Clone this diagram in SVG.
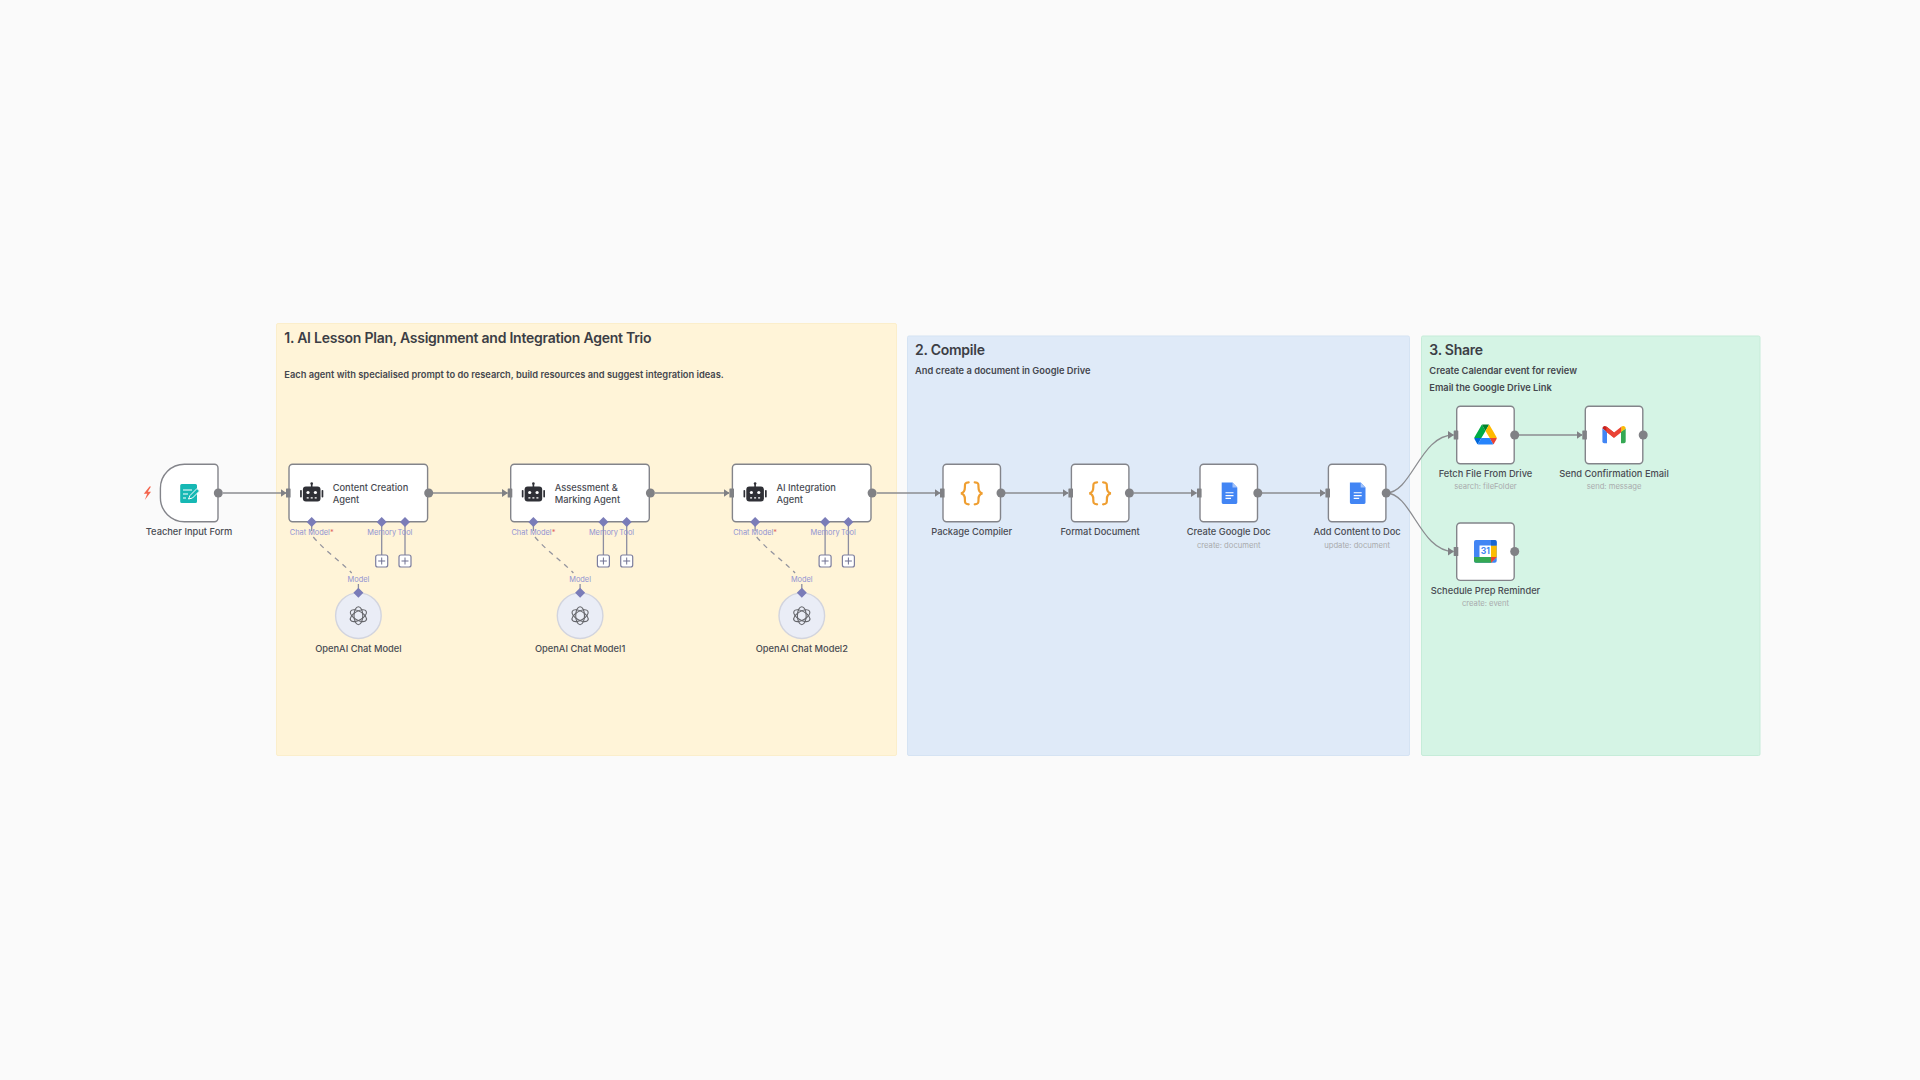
<svg xmlns="http://www.w3.org/2000/svg" width="1920" height="1080" viewBox="0 0 1920 1080">
<style>
text{font-family:"Inter","Liberation Sans",sans-serif}
.title{font-size:14px;font-weight:600;letter-spacing:-0.25px;fill:#3c3e45}
.body{font-size:9.3px;font-weight:600;fill:#45474e}
.name{font-size:9.3px;font-weight:500;fill:#4a4c53}
.mid{text-anchor:middle}
.sub{font-size:7.65px;font-weight:400;fill:#a9abad;text-anchor:middle}
.tag{font-size:7.4px;font-weight:400;fill:#9193d2;text-anchor:middle}
.box{fill:#fff;stroke:#83848a;stroke-width:1.4}
.dot{fill:#808185}
.port{fill:#808185}
.con{fill:none;stroke:#8b8c90;stroke-width:1.3;marker-end:url(#arrow)}
.sup{fill:none;stroke:#8c8da0;stroke-width:1.3}
.dash{fill:none;stroke:#94949e;stroke-width:1.3;stroke-dasharray:5 5}
.dia{fill:#7a7cb8}
.plus{fill:#fff;stroke:#7d7e9e;stroke-width:1.2}
.pm{stroke:#6f7192;stroke-width:1;fill:none}
.llm{fill:#eaedf6;stroke:#d2d4de;stroke-width:1.4}
</style>
<defs>
<marker id="arrow" viewBox="0 0 6 9" refX="5.500" refY="4.500" markerWidth="6" markerHeight="9" markerUnits="userSpaceOnUse" orient="auto"><path d="M0 0.500L6 4.500L0 8.500Z" fill="#808185"/></marker>
<g id="in"><rect x="-3" y="-4.500" width="4.600" height="9" rx="0.600" class="port"/></g>
<g id="robot" fill="#2f3036">
<rect x="-8.800" y="-7" width="17.600" height="15" rx="3"/>
<rect x="-11.600" y="-3.500" width="1.700" height="7.500" rx="0.800"/>
<rect x="9.900" y="-3.500" width="1.700" height="7.500" rx="0.800"/>
<rect x="-0.800" y="-9.500" width="1.600" height="3"/>
<circle cy="-10" r="1.300"/>
<circle cx="-3.700" cy="-1" r="1.600" fill="#fff"/>
<circle cx="3.700" cy="-1" r="1.600" fill="#fff"/>
<path d="M-5 4.300H-3M-1 4.300H1M3 4.300H5" stroke="#fff" stroke-width="1.200"/>
</g>
<g id="knot" fill="none" stroke="#65666b" stroke-width="1.100">
<ellipse rx="4.400" ry="9"/>
<ellipse rx="4.400" ry="9" transform="rotate(60)"/>
<ellipse rx="4.400" ry="9" transform="rotate(120)"/>
</g>
<g id="braces" fill="none" stroke="#ef9e30" stroke-width="2.200" stroke-linecap="round">
<path d="M-3 -11C-7 -11 -6.800 -9 -6.800 -6C-6.800 -2.500 -7.500 -0.500 -10.800 0C-7.500 0.500 -6.800 2.500 -6.800 6C-6.800 9 -7 11 -3 11"/>
<path d="M3 -11C7 -11 6.800 -9 6.800 -6C6.800 -2.500 7.500 -0.500 10.800 0C7.500 0.500 6.800 2.500 6.800 6C6.800 9 7 11 3 11"/>
</g>
<g id="gdoc">
<path d="M-7.800 -10.700H3L7.800 -5.900V9.300A1.400 1.400 0 0 1 6.400 10.700H-6.400A1.400 1.400 0 0 1 -7.800 9.300Z" fill="#4285f4"/>
<path d="M3 -10.700L7.800 -5.900H3Z" fill="#a1c2fa"/>
<path d="M-4 -0.500H4M-4 2.300H4M-4 5.100H1.500" stroke="#fff" stroke-width="1.100"/>
</g>
<g id="ports">
<path class="sup" d="M92.700 0V33M116 0V33"/>
<path class="sup" d="M22.700 0V9M69.400 62V70"/>
<path class="dash" d="M24.300 15C36 29 50 38 62.700 51"/>
<path class="dia" d="M22.700 -5L27.700 0L22.700 5L17.700 0Z"/>
<path class="dia" d="M92.700 -5L97.700 0L92.700 5L87.700 0Z"/>
<path class="dia" d="M116 -5L121 0L116 5L111 0Z"/>
<rect class="plus" x="86.700" y="33" width="12" height="12" rx="2"/>
<rect class="plus" x="110" y="33" width="12" height="12" rx="2"/>
<path class="pm" d="M89.200 39H96.200M92.700 35.500V42.500M112.500 39H119.500M116 35.500V42.500"/>
<circle class="llm" cx="69.400" cy="93.700" r="22.800"/>
<use href="#knot" x="69.400" y="93.700"/>
<path class="dia" d="M69.400 65.800L74.400 70.800L69.400 75.800L64.400 70.800Z"/>
</g>
</defs>
<rect width="1920" height="1080" fill="#fafafa"/>
<g id="sections">
<g id="section-1">
<rect x="276.500" y="323.500" width="620" height="432" rx="1.500" fill="#fff4d8" stroke="#fbeecb" stroke-width="1"/>
<text class="title" x="284.300" y="343">1. AI Lesson Plan, Assignment and Integration Agent Trio</text>
<text class="body" x="284.300" y="378.300">Each agent with specialised prompt to do research, build resources and suggest integration ideas.</text>
</g>
<g id="section-2">
<rect x="907.500" y="336" width="502" height="419.500" rx="1.500" fill="#dfeaf8" stroke="#d5e3f3" stroke-width="1"/>
<text class="title" x="915" y="355.200">2. Compile</text>
<text class="body" x="915" y="374.300">And create a document in Google Drive</text>
</g>
<g id="section-3">
<rect x="1421.500" y="336" width="338.500" height="419.500" rx="1.500" fill="#d5f4e5" stroke="#c6ecd9" stroke-width="1"/>
<text class="title" x="1429.300" y="355.200">3. Share</text>
<text class="body" x="1429.300" y="374.300">Create Calendar event for review</text>
<text class="body" x="1429.300" y="391.300">Email the Google Drive Link</text>
</g>
</g>
<g id="connectors">
<path class="con" d="M223 493H286"/>
<path class="con" d="M433 493H507.500"/>
<path class="con" d="M655 493H729"/>
<path class="con" d="M877 493H940"/>
<path class="con" d="M1005 493H1068"/>
<path class="con" d="M1133.500 493H1196.500"/>
<path class="con" d="M1262 493H1325"/>
<path class="con" d="M1386 493C1412 493 1420 435 1453.500 435"/>
<path class="con" d="M1386 493C1412 493 1420 551.500 1453.500 551.500"/>
<path class="con" d="M1519 435H1582"/>
</g>
<g id="teacher-input-form">
<path class="box" d="M184.400 464.300H214.400A3.600 3.600 0 0 1 218 467.900V518.100A3.600 3.600 0 0 1 214.400 521.700H184.400A24 24 0 0 1 160.400 497.700V488.300A24 24 0 0 1 184.400 464.300Z"/>
<path d="M149.500 486.500L143.800 493.800H147.200L144.800 500L151 491.800H147.800L151 486.500Z" fill="#f4664f"/>
<path d="M180.200 485.500A1.500 1.500 0 0 1 181.700 484H195.500A1.500 1.500 0 0 1 197 485.500V501.500A1.500 1.500 0 0 1 195.500 503H181.700A1.500 1.500 0 0 1 180.200 501.500Z" fill="#16b8b4"/>
<path d="M183 490H192M183 494H188M183 498H186" stroke="#fff" stroke-width="1.200"/>
<path d="M188.500 499L190 495.500L197 488.500L199.500 491L192.500 498Z" fill="#16b8b4" stroke="#fff" stroke-width="1"/>
<circle class="dot" cx="218.300" cy="493" r="4.500"/>
<text class="name mid" x="189" y="535.300">Teacher Input Form</text>
</g>
<g id="content-creation-agent">
<rect class="box" x="289" y="464.300" width="138.600" height="57.400" rx="3.600"/>
<use href="#in" x="289" y="493"/>
<use href="#robot" x="311.700" y="493.500"/>
<text class="name"><tspan x="332.700" y="491.200">Content Creation</tspan><tspan x="332.700" y="503.200">Agent</tspan></text>
<circle class="dot" cx="428.700" cy="493" r="4.500"/>
</g>
<g id="content-creation-agent-ports">
<use href="#ports" x="289" y="522"/>
<text class="tag" x="311.700" y="534.800">Chat Model<tspan fill="#e0665f">*</tspan></text>
<text class="tag" x="381.700" y="534.800">Memory</text>
<text class="tag" x="405" y="534.800">Tool</text>
<text class="tag" x="358.400" y="581.800">Model</text>
<text class="name mid" x="358.400" y="652">OpenAI Chat Model</text>
</g>
<g id="assessment-marking-agent">
<rect class="box" x="510.700" y="464.300" width="138.600" height="57.400" rx="3.600"/>
<use href="#in" x="510.700" y="493"/>
<use href="#robot" x="533.400" y="493.500"/>
<text class="name"><tspan x="554.700" y="491.200">Assessment &amp;</tspan><tspan x="554.700" y="503.200">Marking Agent</tspan></text>
<circle class="dot" cx="650.400" cy="493" r="4.500"/>
</g>
<g id="assessment-marking-agent-ports">
<use href="#ports" x="510.700" y="522"/>
<text class="tag" x="533.400" y="534.800">Chat Model<tspan fill="#e0665f">*</tspan></text>
<text class="tag" x="603.400" y="534.800">Memory</text>
<text class="tag" x="626.700" y="534.800">Tool</text>
<text class="tag" x="580.100" y="581.800">Model</text>
<text class="name mid" x="580.100" y="652">OpenAI Chat Model1</text>
</g>
<g id="ai-integration-agent">
<rect class="box" x="732.400" y="464.300" width="138.600" height="57.400" rx="3.600"/>
<use href="#in" x="732.400" y="493"/>
<use href="#robot" x="755.100" y="493.500"/>
<text class="name"><tspan x="776.400" y="491.200">AI Integration</tspan><tspan x="776.400" y="503.200">Agent</tspan></text>
<circle class="dot" cx="872.100" cy="493" r="4.500"/>
</g>
<g id="ai-integration-agent-ports">
<use href="#ports" x="732.400" y="522"/>
<text class="tag" x="755.100" y="534.800">Chat Model<tspan fill="#e0665f">*</tspan></text>
<text class="tag" x="825.100" y="534.800">Memory</text>
<text class="tag" x="848.400" y="534.800">Tool</text>
<text class="tag" x="801.800" y="581.800">Model</text>
<text class="name mid" x="801.800" y="652">OpenAI Chat Model2</text>
</g>
<g id="package-compiler">
<rect class="box" x="943" y="464.300" width="57.500" height="57.400" rx="3.600"/>
<use href="#in" x="943" y="493"/>
<use href="#braces" x="971.700" y="493.300"/>
<circle class="dot" cx="1001" cy="493" r="4.500"/>
<text class="name mid" x="971.700" y="535.300">Package Compiler</text>
</g>
<g id="format-document">
<rect class="box" x="1071.400" y="464.300" width="57.500" height="57.400" rx="3.600"/>
<use href="#in" x="1071.400" y="493"/>
<use href="#braces" x="1100.100" y="493.300"/>
<circle class="dot" cx="1129.400" cy="493" r="4.500"/>
<text class="name mid" x="1100.100" y="535.300">Format Document</text>
</g>
<g id="create-google-doc">
<rect class="box" x="1200" y="464.300" width="57.500" height="57.400" rx="3.600"/>
<use href="#in" x="1200" y="493"/>
<use href="#gdoc" x="1229.500" y="493.300"/>
<circle class="dot" cx="1257.800" cy="493" r="4.500"/>
<text class="name mid" x="1228.700" y="535.300">Create Google Doc</text>
<text class="sub" x="1228.700" y="548">create: document</text>
</g>
<g id="add-content-to-doc">
<rect class="box" x="1328.400" y="464.300" width="57.500" height="57.400" rx="3.600"/>
<use href="#in" x="1328.400" y="493"/>
<use href="#gdoc" x="1357.700" y="493.300"/>
<circle class="dot" cx="1386.200" cy="493" r="4.500"/>
<text class="name mid" x="1357.100" y="535.300">Add Content to Doc</text>
<text class="sub" x="1357.100" y="548">update: document</text>
</g>
<g id="fetch-file-from-drive">
<rect class="box" x="1456.700" y="406.300" width="57.500" height="57.400" rx="3.600"/>
<use href="#in" x="1456.700" y="435"/>
<g transform="translate(1474.300 424.500) scale(0.257)">
<path d="m6.600 66.850 3.850 6.650c.8 1.400 1.950 2.500 3.300 3.300l13.750-23.800h-27.500c0 1.550.4 3.100 1.200 4.500z" fill="#0066da"/>
<path d="m43.650 25-13.750-23.800c-1.350.8-2.500 1.900-3.300 3.300l-25.400 44a9.060 9.060 0 0 0 -1.200 4.500h27.500z" fill="#00ac47"/>
<path d="m73.550 76.800c1.350-.8 2.500-1.900 3.300-3.300l1.600-2.750 7.650-13.250c.8-1.400 1.200-2.950 1.200-4.500h-27.502l5.852 11.500z" fill="#ea4335"/>
<path d="m43.650 25 13.750-23.800c-1.350-.8-2.900-1.200-4.500-1.200h-18.500c-1.600 0-3.150.45-4.500 1.200z" fill="#00832d"/>
<path d="m59.800 53h-32.300l-13.750 23.800c1.350.8 2.900 1.200 4.500 1.200h50.800c1.600 0 3.150-.45 4.500-1.200z" fill="#2684fc"/>
<path d="m73.400 26.500-12.700-22c-.8-1.400-1.950-2.500-3.300-3.300l-13.750 23.800 16.150 28h27.450c0-1.550-.4-3.100-1.200-4.500z" fill="#ffba00"/>
</g>
<circle class="dot" cx="1514.700" cy="435" r="4.500"/>
<text class="name mid" x="1485.500" y="477.300">Fetch File From Drive</text>
<text class="sub" x="1485.500" y="489.300">search: fileFolder</text>
</g>
<g id="send-confirmation-email">
<rect class="box" x="1585.300" y="406.300" width="57.500" height="57.400" rx="3.600"/>
<use href="#in" x="1585.300" y="435"/>
<path d="M1602.400 428.500A2.500 2.500 0 0 1 1606.400 426.500L1614 432.500V437.500L1602.400 428.500Z" fill="#c5221f"/>
<path d="M1602.400 428.500V441.500A1.800 1.800 0 0 0 1604.200 443.300H1607V432Z" fill="#4285f4"/>
<path d="M1606.400 426.500L1614 432.500L1621.600 426.500V432L1614 438L1606.400 432Z" fill="#ea4335"/>
<path d="M1621 431.800L1625.700 428.500V441.500A1.800 1.800 0 0 1 1623.900 443.300H1621Z" fill="#34a853"/>
<path d="M1621.600 426.500A2.500 2.500 0 0 1 1625.700 428.500L1621 432Z" fill="#fbbc04"/>
<circle class="dot" cx="1643.200" cy="435" r="4.500"/>
<text class="name mid" x="1614" y="477.300">Send Confirmation Email</text>
<text class="sub" x="1614" y="489.300">send: message</text>
</g>
<g id="schedule-prep-reminder">
<rect class="box" x="1456.700" y="523" width="57.500" height="57.400" rx="3.600"/>
<use href="#in" x="1456.700" y="551.500"/>
<rect x="1474" y="540" width="22.700" height="22.700" rx="2" fill="#4285f4"/>
<path d="M1491 545.500H1496.700V557L1491 562.700Z" fill="#fbbc04"/>
<path d="M1474 557H1491V562.700H1476A2 2 0 0 1 1474 560.700Z" fill="#34a853"/>
<path d="M1491 557H1496.700L1491 562.700Z" fill="#ea4335"/>
<path d="M1491 540H1494.700A2 2 0 0 1 1496.700 542V545.500H1491Z" fill="#1967d2"/>
<rect x="1479.500" y="545.500" width="11.500" height="11.500" fill="#fff"/>
<text x="1485.300" y="554.200" font-size="8.500" font-weight="700" fill="#4285f4" text-anchor="middle">31</text>
<circle class="dot" cx="1514.700" cy="551.500" r="4.500"/>
<text class="name mid" x="1485.500" y="594.300">Schedule Prep Reminder</text>
<text class="sub" x="1485.500" y="606.300">create: event</text>
</g>
</svg>
